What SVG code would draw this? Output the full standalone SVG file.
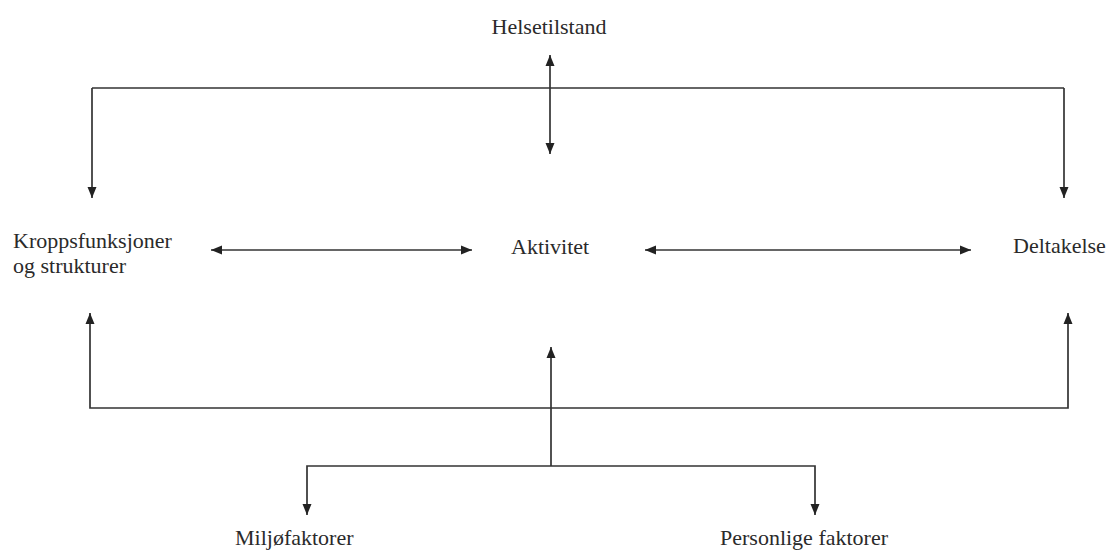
<svg xmlns="http://www.w3.org/2000/svg" width="1107" height="550" viewBox="0 0 1107 550">
<style>
text{font-family:'Liberation Serif','Times New Roman',Times,serif;font-size:22px;fill:#2a2a2a}
.c{stroke:#333;stroke-width:1.7;fill:none}
</style>
<defs>
<marker id="ah" markerUnits="userSpaceOnUse" markerWidth="12" markerHeight="10" refX="11" refY="5" orient="auto-start-reverse">
<path d="M0,0.5 L11,5 L0,9.5 Z" fill="#222"/>
</marker>
</defs>
<rect width="1107" height="550" fill="#fff"/>
<g id="connectors">
<path class="c" d="M92,88 H1064"/>
<path class="c" d="M92,88 V198" marker-end="url(#ah)"/>
<path class="c" d="M1064,88 V198" marker-end="url(#ah)"/>
<path class="c" d="M550,55 V154" marker-start="url(#ah)" marker-end="url(#ah)"/>
<path class="c" d="M211,250 H472" marker-start="url(#ah)" marker-end="url(#ah)"/>
<path class="c" d="M645,250 H971" marker-start="url(#ah)" marker-end="url(#ah)"/>
<path class="c" d="M90,313 V408 H1068 V313" marker-start="url(#ah)" marker-end="url(#ah)"/>
<path class="c" d="M551,466 V347" marker-end="url(#ah)"/>
<path class="c" d="M307,515 V466 H815 V515" marker-start="url(#ah)" marker-end="url(#ah)"/>
</g>
<g id="helsetilstand"><text x="549" y="34" text-anchor="middle">Helsetilstand</text></g>
<g id="kroppsfunksjoner"><text x="13" y="248">Kroppsfunksjoner</text><text x="13" y="273">og strukturer</text></g>
<g id="aktivitet"><text x="511" y="254">Aktivitet</text></g>
<g id="deltakelse"><text x="1013" y="253">Deltakelse</text></g>
<g id="miljofaktorer"><text x="235" y="545">Miljøfaktorer</text></g>
<g id="personlige"><text x="720" y="545">Personlige faktorer</text></g>
</svg>
